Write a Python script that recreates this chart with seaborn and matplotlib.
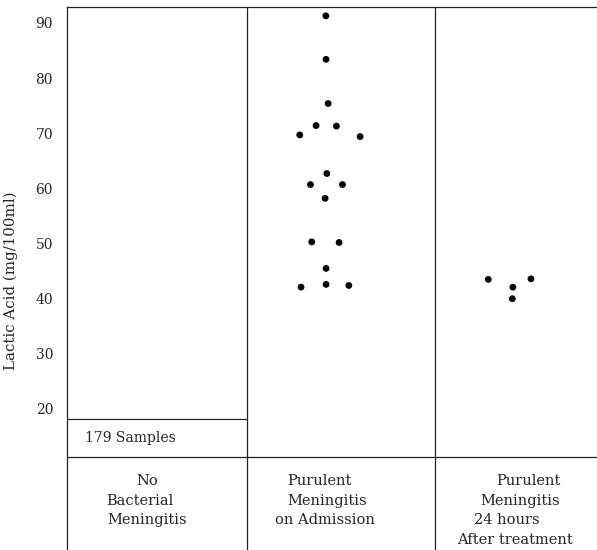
import pandas as pd
import matplotlib.pyplot as plt
import seaborn as sns

# --- data ---
groups = [['No', 'Bacterial', 'Meningitis'],
          ['Purulent', 'Meningitis', 'on Admission'],
          ['Purulent', 'Meningitis', '24 hours', 'After treatment']]

# purulent meningitis on admission (mg/100ml)
admission_vals = [91.3, 83.4, 75.4, 71.4, 71.3, 69.7, 69.4, 62.7, 60.7, 60.7,
                  58.2, 50.3, 50.2, 45.5, 42.1, 42.6, 42.4]
admission_spread = [-0.081, -0.080, -0.069, -0.133, -0.025, -0.220, 0.101, -0.076,
                    -0.163, 0.007, -0.085, -0.156, -0.011, -0.080, -0.213, -0.080, 0.041]

# 24 hours after treatment
after_vals = [43.5, 43.6, 42.1, 40.0]
after_spread = [-0.218, 0.009, -0.087, -0.090]

no_bact_samples = 179
no_bact_upper = 18.2   # all 179 samples below this level

yticks = [20, 30, 40, 50, 60, 70, 80, 90]

df = pd.DataFrame({
    'pos': [1 + d for d in admission_spread] + [2 + d for d in after_spread],
    'lactic': admission_vals + after_vals,
})

# --- figure ---
sns.set_style('white')
plt.rcParams['font.family'] = ['DejaVu Serif']

fig = plt.figure(figsize=(5.97, 5.5), dpi=100)
ax = fig.add_axes([67 / 597, 0, 1 - 67 / 597, 1 - 7 / 550])

sns.scatterplot(data=df, x='pos', y='lactic', color='black', s=24,
                edgecolor='none', ax=ax, legend=False)

ax.set_xlim(-0.457, 2.36)
ax.set_ylim(-5.57, 92.9)

line_kw = dict(color='#222222', lw=0.9)
ax.axvline(0.5, **line_kw)
ax.axvline(1.5, **line_kw)
base_y = 11.3
ax.axhline(base_y, **line_kw)
ax.plot([-0.457, 0.5], [no_bact_upper, no_bact_upper], **line_kw)

ax.text(-0.36, (no_bact_upper + base_y) / 2, f'{no_bact_samples} Samples',
        ha='left', va='center', fontsize=10)

# category labels below the baseline (typed lines are not quite centred)
line_x = [[-0.032, -0.069, -0.032],
          [0.883, 0.926, 0.915],
          [1.995, 1.952, 1.878, 1.926]]
for xs, lines in zip(line_x, groups):
    for i, (xx, lab) in enumerate(zip(xs, lines)):
        ax.text(xx, 6.95 - i * 3.57, lab, ha='center', va='center', fontsize=10.5)

ax.set_yticks(yticks)
ax.set_yticklabels([str(t) for t in yticks], fontsize=10)
ax.set_xticks([])
ax.tick_params(axis='y', length=0, pad=10)
ax.set_xlabel('')
ax.set_ylabel('Lactic Acid (mg/100ml)', fontsize=10.8)
ax.yaxis.set_label_coords(-0.092, 0.495)

for side in ['right', 'bottom']:
    ax.spines[side].set_visible(False)
for side in ['left', 'top']:
    ax.spines[side].set_color('#222222')
    ax.spines[side].set_linewidth(0.9)

plt.savefig('out.png', dpi=100)
